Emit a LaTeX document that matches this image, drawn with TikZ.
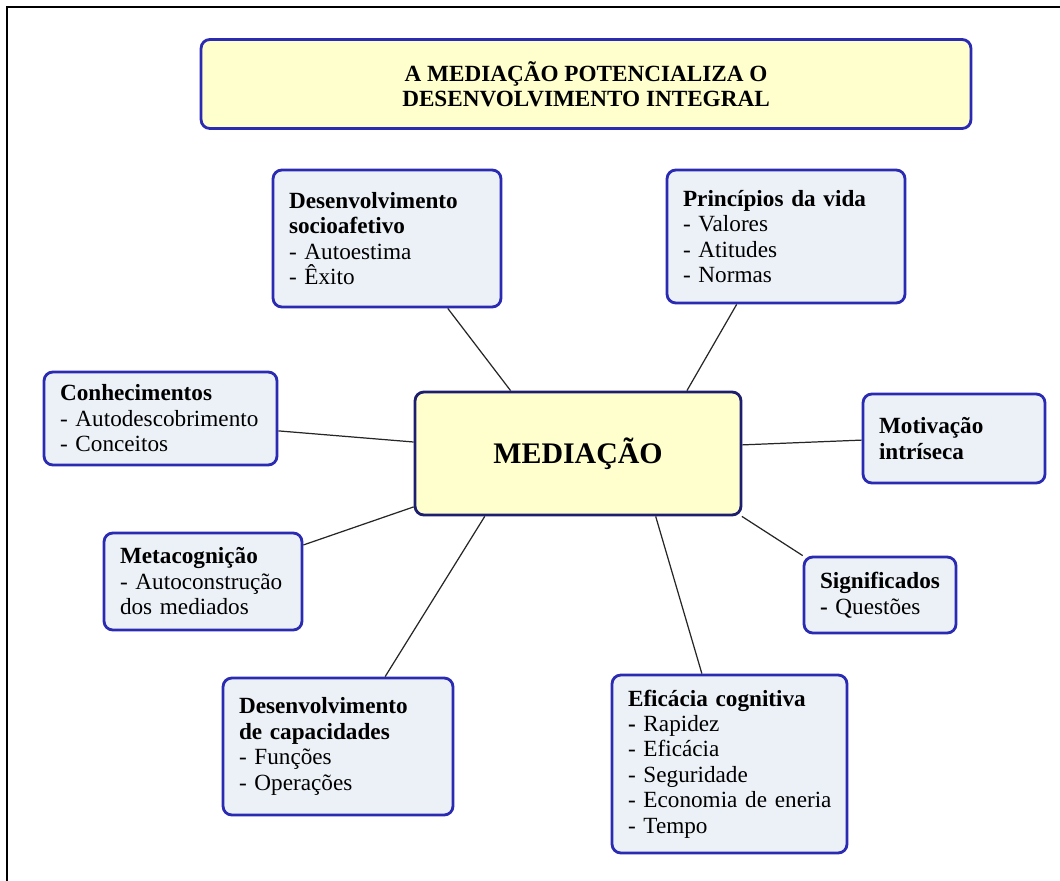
\documentclass[tikz,border=0pt]{standalone}
\usepackage{fontspec}
\setmainfont{Liberation Serif}
\definecolor{boxblue}{RGB}{42,42,178}
\definecolor{navy}{RGB}{30,30,110}
\definecolor{itemfill}{RGB}{236,241,247}
\definecolor{paleyellow}{RGB}{255,255,206}

\begin{document}
\begin{tikzpicture}[x=0.02cm, y=-0.02cm,
    itembox/.style={draw=boxblue, line width=1.6pt, rounded corners=5pt, fill=itemfill,
        align=left, inner xsep=0.32cm, inner ysep=0pt, font=\fontsize{13.2}{14.5}\selectfont},
    link/.style={draw=black!85, line width=0.7pt}]

\useasboundingbox (0,0) rectangle (1060,881);
\draw[line width=1.5pt] (7,881) -- (7,7) -- (1060,7);

\node[itembox, fill=paleyellow, align=center, minimum width=15.4cm, minimum height=1.78cm, font=\bfseries\fontsize{13.2}{14.3}\selectfont] (title) at (586,84) {A MEDIAÇÃO POTENCIALIZA O\\DESENVOLVIMENTO INTEGRAL};

\node[itembox, draw=navy, fill=paleyellow, align=center, minimum width=6.52cm, minimum height=2.46cm, font=\bfseries\fontsize{17}{20}\selectfont] (med) at (578,453.5) {MEDIAÇÃO};

\node[itembox, text width=3.92cm, minimum height=2.74cm] (socio) at (387,238.5) {\textbf{Desenvolvimento}\\\textbf{socioafetivo}\\- Autoestima\\- Êxito};
\node[itembox, text width=4.12cm, minimum height=2.66cm] (vida) at (786,236.5) {\textbf{Princípios da vida}\\- Valores\\- Atitudes\\- Normas};
\node[itembox, text width=4.02cm, minimum height=1.86cm] (conhec) at (160.5,418.5) {\textbf{Conhecimentos}\\- Autodescobrimento\\- Conceitos};
\node[itembox, text width=3.00cm, minimum height=1.78cm] (motiv) at (954,438.5) {\textbf{Motivação}\\\textbf{intríseca}};
\node[itembox, text width=3.32cm, minimum height=1.94cm] (meta) at (203,581.5) {\textbf{Metacognição}\\- Autoconstrução\\dos mediados};
\node[itembox, text width=2.40cm, minimum height=1.52cm] (signif) at (880,595) {\textbf{Significados}\\\textbf{-} Questões};
\node[itembox, text width=3.96cm, minimum height=2.74cm] (capac) at (338,746.5) {\textbf{Desenvolvimento}\\\textbf{de capacidades}\\- Funções\\- Operações};
\node[itembox, text width=4.06cm, minimum height=3.56cm] (efic) at (729.5,764) {\textbf{Eficácia cognitiva}\\\textbf{-} Rapidez\\- Eficácia\\- Seguridade\\\mbox{- Economia de eneria}\\- Tempo};

\draw[link] (socio.311.7) -- (med.137);
\draw[link] (vida.234.2) -- (med.30.4);
\draw[link] (conhec.354.4) -- (med.176.3);
\draw[link] (motiv.181.6) -- (med.3.3);
\draw[link] (meta.20.2) -- (med.198.2);
\draw[link] (signif.153) -- (med.339.3);
\draw[link] (capac.56.1) -- (med.214);
\draw[link] (efic.107.2) -- (med.321.4);
\end{tikzpicture}
\end{document}
